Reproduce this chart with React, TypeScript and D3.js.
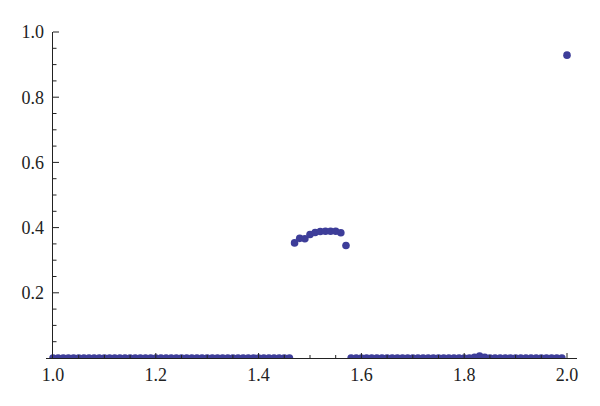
import React from "react";
import * as d3 from "d3";

const xValues: number[] = [
  1.0, 1.01, 1.02, 1.03, 1.04, 1.05, 1.06, 1.07, 1.08, 1.09,
  1.1, 1.11, 1.12, 1.13, 1.14, 1.15, 1.16, 1.17, 1.18, 1.19,
  1.2, 1.21, 1.22, 1.23, 1.24, 1.25, 1.26, 1.27, 1.28, 1.29,
  1.3, 1.31, 1.32, 1.33, 1.34, 1.35, 1.36, 1.37, 1.38, 1.39,
  1.4, 1.41, 1.42, 1.43, 1.44, 1.45, 1.46, 1.47, 1.48, 1.49,
  1.5, 1.51, 1.52, 1.53, 1.54, 1.55, 1.56, 1.57, 1.58, 1.59,
  1.6, 1.61, 1.62, 1.63, 1.64, 1.65, 1.66, 1.67, 1.68, 1.69,
  1.7, 1.71, 1.72, 1.73, 1.74, 1.75, 1.76, 1.77, 1.78, 1.79,
  1.8, 1.81, 1.82, 1.83, 1.84, 1.85, 1.86, 1.87, 1.88, 1.89,
  1.9, 1.91, 1.92, 1.93, 1.94, 1.95, 1.96, 1.97, 1.98, 1.99,
  2.0,
];

const yValues: number[] = [
  0, 0, 0, 0, 0, 0, 0, 0, 0, 0,
  0, 0, 0, 0, 0, 0, 0, 0, 0, 0,
  0, 0, 0, 0, 0, 0, 0, 0, 0, 0,
  0, 0, 0, 0, 0, 0, 0, 0, 0, 0,
  0, 0, 0, 0, 0, 0, 0, 0.353, 0.367, 0.366,
  0.379, 0.385, 0.388, 0.389, 0.389, 0.389, 0.384, 0.345, 0, 0,
  0, 0, 0, 0, 0, 0, 0, 0, 0, 0,
  0, 0, 0, 0, 0, 0, 0, 0, 0, 0,
  0, 0, 0.002, 0.006, 0.002, 0, 0, 0, 0, 0,
  0, 0, 0, 0, 0, 0, 0, 0, 0, 0,
  0.929,
];

const xTickLabels = [1.0, 1.2, 1.4, 1.6, 1.8, 2.0];
const yTickLabels = [0.2, 0.4, 0.6, 0.8, 1.0];

const W = 600;
const H = 406;
const X0 = 53;
const X1 = 567;
const Y0 = 358;
const Y1 = 32;

export default function App() {
  const x = d3.scaleLinear().domain([1, 2]).range([X0, X1]);
  const y = d3.scaleLinear().domain([0, 1]).range([Y0, Y1]);
  const xMinor = d3.range(0, 21).map((i) => 1 + i * 0.05);
  const yMinor = d3.range(0, 21).map((i) => i * 0.05);
  const isMajor = (v: number) => Math.abs(v * 5 - Math.round(v * 5)) < 1e-6;
  const axisColor = "#222";
  const pointColor = "#3d3d99";
  const textStyle = {
    fontFamily: '"Liberation Serif", serif',
    fontSize: "18px",
  };

  return (
    <svg
      width={W}
      height={H}
      style={{ position: "absolute", left: 0, top: 0, background: "#fff" }}
    >
      <defs>
        <clipPath id="plotclip">
          <rect x={0} y={0} width={W} height={Y0} />
        </clipPath>
      </defs>
      <g clipPath="url(#plotclip)">
        {xValues.map((xv, i) => (
          <circle
            key={i}
            cx={x(xv)}
            cy={y(yValues[i])}
            r={3.8}
            fill={pointColor}
          />
        ))}
      </g>
      {/* x axis */}
      <line x1={46} x2={577} y1={Y0 + 0.5} y2={Y0 + 0.5} stroke={axisColor} strokeWidth={1} />
      {xMinor.map((v, i) =>
        v === 1 ? null : (
          <line
            key={"xt" + i}
            x1={x(v)}
            x2={x(v)}
            y1={Y0}
            y2={Y0 - (isMajor(v) ? 5 : 3)}
            stroke={axisColor}
            strokeWidth={1}
          />
        )
      )}
      {/* y axis */}
      <line x1={X0 - 0.5} x2={X0 - 0.5} y1={Y0} y2={Y1} stroke={axisColor} strokeWidth={1} />
      {yMinor.map((v, i) =>
        v === 0 ? null : (
          <line
            key={"yt" + i}
            x1={X0}
            x2={X0 + (isMajor(v) ? 6 : 3.5)}
            y1={y(v)}
            y2={y(v)}
            stroke={axisColor}
            strokeWidth={1}
          />
        )
      )}
      {xTickLabels.map((v, i) => (
        <text
          key={"xl" + i}
          x={x(v)}
          y={381}
          textAnchor="middle"
          style={textStyle}
          fill="#222"
        >
          {v.toFixed(1)}
        </text>
      ))}
      {yTickLabels.map((v, i) => (
        <text
          key={"yl" + i}
          x={44}
          y={y(v)}
          dy="0.35em"
          textAnchor="end"
          style={textStyle}
          fill="#222"
        >
          {v.toFixed(1)}
        </text>
      ))}
    </svg>
  );
}
